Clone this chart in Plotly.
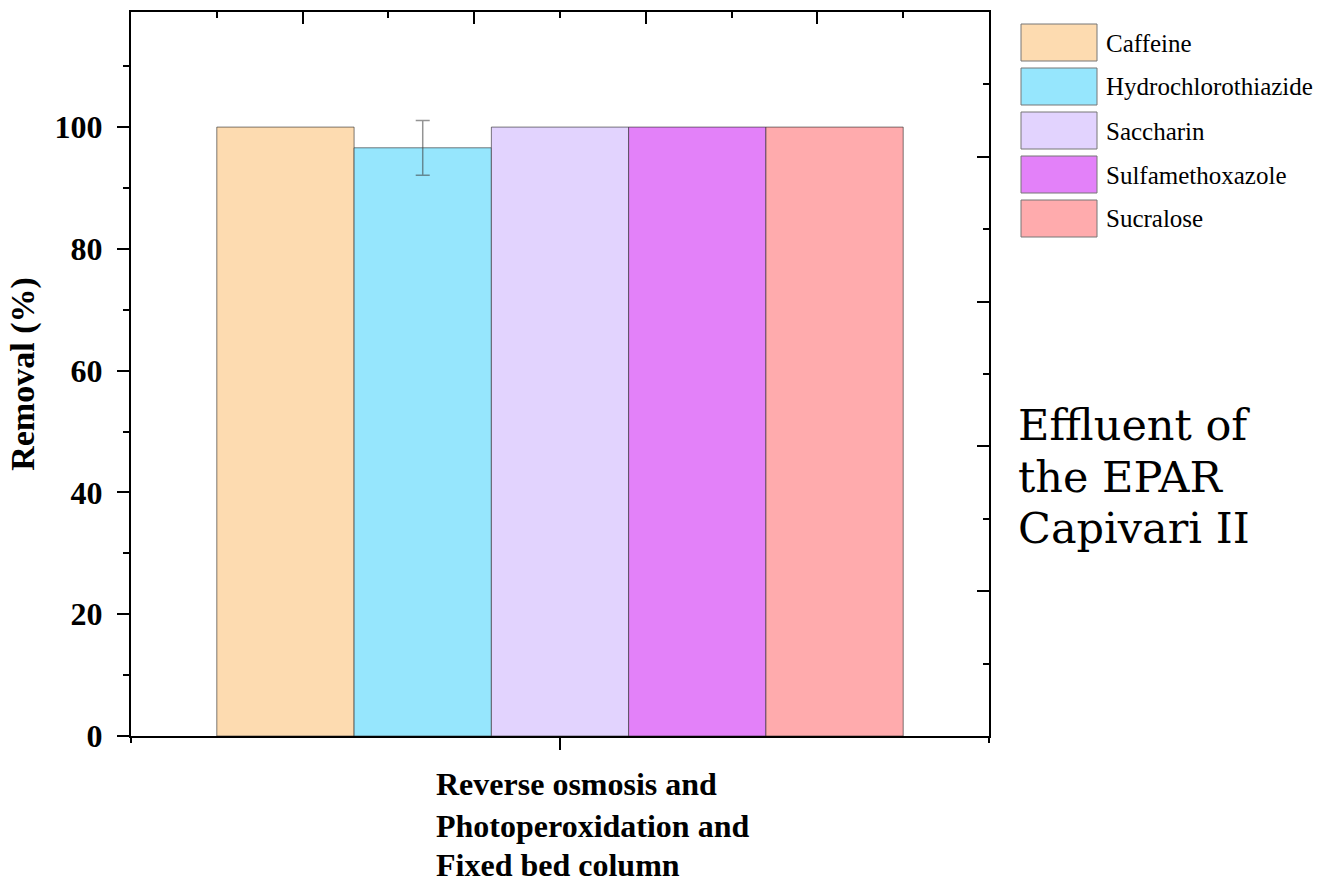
import plotly.graph_objects as go

# ---------------- data ----------------
category = "Reverse osmosis and\nPhotoperoxidation and\nFixed bed column"
compounds = ["Caffeine", "Hydrochlorothiazide", "Saccharin", "Sulfamethoxazole", "Sucralose"]
removal = [100, 96.6, 100, 100, 100]
errors = [0, 4.5, 0, 0, 0]
colors = ["#FDDBB0", "#96E6FD", "#E2D3FE", "#E381F9", "#FFABAD"]
y_ticks = [0, 20, 40, 60, 80, 100]
y_minor = [10, 30, 50, 70, 90, 110]
side_text = "Effluent of\nthe EPAR\nCapivari II"

# ---------------- geometry ----------------
W, H = 1317, 884
L, R, T, B = 131, 989, 12, 736
PW, PH = R - L, B - T


def px_x(p):
    return (p - L) / PW


def px_y(p):
    return (B - p) / PH


SERIF = "Liberation Serif, Times New Roman, serif"

fig = go.Figure()
for name, val, err, col in zip(compounds, removal, errors, colors):
    fig.add_trace(go.Bar(
        x=[category], y=[val], name=name,
        marker=dict(color=col, line=dict(color="rgba(40,40,40,0.6)", width=1)),
        error_y=dict(type="data", array=[err], visible=err > 0,
                     color="rgba(60,60,60,0.55)", thickness=1.5, width=7),
        showlegend=False, hoverinfo="skip",
    ))

# dummy traces so the mirror axes get drawn
fig.add_trace(go.Scatter(x=[], y=[], xaxis="x2", yaxis="y2", showlegend=False, hoverinfo="skip"))
fig.add_trace(go.Scatter(x=[], y=[], xaxis="x3", yaxis="y", showlegend=False, hoverinfo="skip"))

axis_common = dict(showgrid=False, zeroline=False, linecolor="black", linewidth=2,
                   tickcolor="black", tickwidth=2)

fig.update_layout(
    width=W, height=H,
    margin=dict(l=L, r=W - R, t=T, b=H - B, autoexpand=False),
    paper_bgcolor="white", plot_bgcolor="white",
    barmode="group", bargap=0.2, bargroupgap=0,
    showlegend=False,
    xaxis=dict(type="category", range=[-0.5, 0.5], showline=True, ticks="outside",
               ticklen=12, showticklabels=False, **axis_common),
    xaxis3=dict(overlaying="x", anchor="y", side="bottom", range=[0, 1],
                tickvals=[0, 1], ticks="outside", ticklen=6, showline=False,
                showticklabels=False, showgrid=False, zeroline=False,
                tickcolor="black", tickwidth=2),
    xaxis2=dict(overlaying="x", anchor="y", side="top", range=[0, 10], showline=True,
                tickvals=[2, 4, 6, 8], ticks="inside", ticklen=12, showticklabels=False,
                minor=dict(tickvals=[1, 3, 5, 7, 9], ticks="inside", ticklen=6,
                           tickcolor="black", tickwidth=2),
                **axis_common),
    yaxis=dict(range=[0, 118.9], showline=True, tickvals=y_ticks, ticks="outside",
               ticklen=12, ticklabelstandoff=8,
               minor=dict(tickvals=y_minor, ticks="outside", ticklen=6,
                          tickcolor="black", tickwidth=2),
               tickfont=dict(family=SERIF, size=32, color="black", weight="bold"),
               title=dict(text="Removal (%)", standoff=10,
                          font=dict(family=SERIF, size=34, color="black", weight="bold")),
               **axis_common),
    yaxis2=dict(overlaying="y", anchor="x", side="right", range=[0, 10], showline=True,
                tickvals=[2, 4, 6, 8], ticks="inside", ticklen=12, showticklabels=False,
                minor=dict(tickvals=[1, 3, 5, 7, 9], ticks="inside", ticklen=6,
                           tickcolor="black", tickwidth=2),
                **axis_common),
)

# category label (left aligned, three lines; last one sits on the bottom edge)
label_lines = category.split("\n")
n_lines = len(label_lines)
for i, line in enumerate(label_lines):
    last = i == n_lines - 1
    fig.add_annotation(x=px_x(435), y=px_y(H) if last else px_y(784 + 42 * i),
                       xref="paper", yref="paper", borderpad=0,
                       xanchor="left", yanchor="bottom" if last else "middle",
                       showarrow=False, text=line,
                       font=dict(family=SERIF, size=32, color="black", weight="bold"))

# legend drawn as boxes + labels
for i, (name, col) in enumerate(zip(compounds, colors)):
    top = 24 + 44 * i
    fig.add_shape(type="rect", xref="paper", yref="paper",
                  x0=px_x(1021), x1=px_x(1097), y0=px_y(top + 37), y1=px_y(top),
                  fillcolor=col, line=dict(color="#777777", width=1))
    fig.add_annotation(x=px_x(1104), y=px_y(top + 19), xref="paper", yref="paper",
                       xanchor="left", yanchor="middle", showarrow=False, text=name,
                       font=dict(family=SERIF, size=25, color="black"))

# side text
for i, line in enumerate(side_text.split("\n")):
    fig.add_annotation(x=px_x(1016), y=px_y(425 + 51.5 * i), xref="paper", yref="paper",
                       xanchor="left", yanchor="middle", showarrow=False,
                       text=line, font=dict(family="DejaVu Serif", size=43, color="black"))

fig.write_html("out.html", config={"displayModeBar": False},
               post_script="document.body.style.margin='0px';document.body.style.overflow='hidden';")
